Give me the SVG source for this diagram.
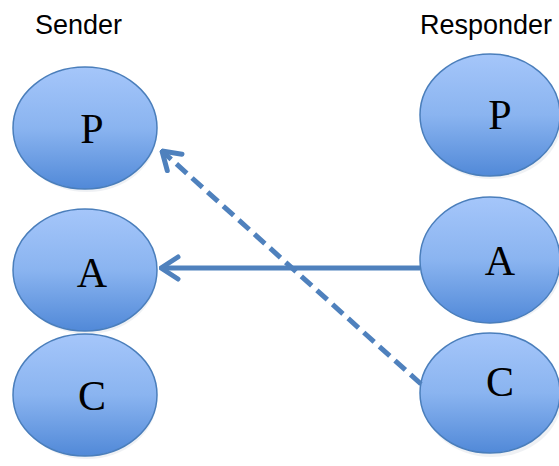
<svg xmlns="http://www.w3.org/2000/svg" width="559" height="466" viewBox="0 0 559 466">
  <style>
    .node { fill: url(#bubble); stroke: #4a7ebb; stroke-width: 1.5; }
    .glow { fill: #dfe3ea; opacity: 0.5; }
    .label { font-family: "Liberation Serif", "DejaVu Serif", serif; font-size: 42px; fill: #000; text-anchor: middle; }
    .head { font-family: "Liberation Sans", Arial, sans-serif; font-size: 27px; fill: #000; }
    .link { fill: none; stroke: #4f81bd; stroke-width: 5; }
  </style>
  <defs>
    <linearGradient id="bubble" x1="0" y1="0" x2="0" y2="1">
      <stop offset="0" stop-color="#a5c6fa"/>
      <stop offset="0.5" stop-color="#8ab4f0"/>
      <stop offset="1" stop-color="#5189d8"/>
    </linearGradient>
    <marker id="chev" viewBox="0 0 22 28" refX="20" refY="14" markerWidth="22" markerHeight="28" markerUnits="userSpaceOnUse" orient="auto">
      <path d="M3,3 L20,14 L3,25" fill="none" stroke="#4f81bd" stroke-width="5" stroke-linecap="round" stroke-linejoin="round"/>
    </marker>
  </defs>
  <rect width="559" height="466" fill="#fff"/>

  <text class="head" x="35" y="34">Sender</text>
  <text class="head" x="420" y="34">Responder</text>

  <g id="sender-P">
    <ellipse class="glow" cx="87" cy="132" rx="70" ry="60"/>
    <ellipse class="node" cx="85" cy="128" rx="72" ry="61"/>
    <text class="label" x="92" y="143">P</text>
  </g>
  <g id="sender-A">
    <ellipse class="glow" cx="87" cy="274" rx="70" ry="60"/>
    <ellipse class="node" cx="85" cy="270" rx="72" ry="61"/>
    <text class="label" x="92" y="287">A</text>
  </g>
  <g id="sender-C">
    <ellipse class="glow" cx="87" cy="399" rx="70" ry="60"/>
    <ellipse class="node" cx="85" cy="395" rx="72" ry="61"/>
    <text class="label" x="92" y="410">C</text>
  </g>
  <g id="responder-P">
    <ellipse class="glow" cx="492" cy="119" rx="70" ry="60"/>
    <ellipse class="node" cx="490" cy="115" rx="70" ry="61"/>
    <text class="label" x="500" y="129">P</text>
  </g>
  <g id="responder-A">
    <ellipse class="glow" cx="492" cy="264" rx="70" ry="60"/>
    <ellipse class="node" cx="490" cy="260" rx="70" ry="63"/>
    <text class="label" x="500" y="275">A</text>
  </g>
  <g id="responder-C">
    <ellipse class="glow" cx="492" cy="397" rx="70" ry="60"/>
    <ellipse class="node" cx="490" cy="393" rx="70" ry="60"/>
    <text class="label" x="500" y="396">C</text>
  </g>

  <g id="connectors">
    <line class="link" x1="420" y1="268" x2="161" y2="268" marker-end="url(#chev)"/>
    <line class="link" x1="421" y1="384" x2="162" y2="151" stroke-dasharray="14 7" marker-end="url(#chev)"/>
  </g>
</svg>
